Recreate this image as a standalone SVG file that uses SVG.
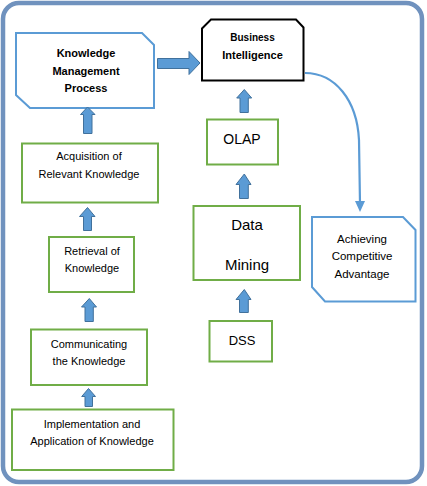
<svg xmlns="http://www.w3.org/2000/svg" width="427" height="486" viewBox="0 0 427 486">
<defs>
<style>
.frame{fill:#ffffff;stroke:#7092BE;stroke-width:4.5}
.green{fill:#ffffff;stroke:#70AD47;stroke-width:2}
.blue{fill:#ffffff;stroke:#5B9BD5;stroke-width:2}
.black{fill:#ffffff;stroke:#000000;stroke-width:2}
.t{font-family:"Liberation Sans",Arial,sans-serif;fill:#000000;text-anchor:middle}
.b{font-weight:bold}
.arr{fill:#5B9BD5;stroke:#41719C;stroke-width:1}
.curve{fill:none;stroke:#5B9BD5;stroke-width:2.2}
</style>
</defs>
<rect class="frame" x="3" y="3" width="419" height="479" rx="16"/>

<g id="kmp">
<path class="blue" d="M16,33 L142,33 L154,45 L154,108 L30,108 L16,95 Z" stroke-width="1.8"/>
<text class="t b" font-size="11" x="86" y="57">Knowledge</text>
<text class="t b" font-size="11" x="86" y="74.5">Management</text>
<text class="t b" font-size="11" x="86" y="92">Process</text>
</g>

<g id="bi">
<path class="black" d="M202,28.5 L211,19.5 L296,19.5 L303.5,27.5 L303.5,80.5 L202,80.5 Z"/>
<text class="t b" font-size="10" x="252.5" y="41">Business</text>
<text class="t b" font-size="11" x="252.5" y="59">Intelligence</text>
</g>

<g id="acquisition">
<rect class="green" x="22" y="143.5" width="136" height="59"/>
<text class="t" font-size="11" x="89" y="160">Acquisition of</text>
<text class="t" font-size="11" x="89" y="177.5">Relevant Knowledge</text>
</g>

<g id="retrieval">
<rect class="green" x="49" y="237" width="85" height="55"/>
<text class="t" font-size="11" x="92" y="255">Retrieval of</text>
<text class="t" font-size="11" x="92" y="272">Knowledge</text>
</g>

<g id="communicating">
<rect class="green" x="31" y="329.5" width="116" height="55.5"/>
<text class="t" font-size="11" x="89" y="348">Communicating</text>
<text class="t" font-size="11" x="89" y="365">the Knowledge</text>
</g>

<g id="implementation">
<rect class="green" x="12" y="409.5" width="161.5" height="60.5"/>
<text class="t" font-size="11" x="92" y="427.5">Implementation and</text>
<text class="t" font-size="11" x="92" y="444.5">Application of Knowledge</text>
</g>

<g id="olap">
<rect class="green" x="207" y="119.5" width="71" height="45"/>
<text class="t" font-size="14" x="242" y="144">OLAP</text>
</g>

<g id="datamining">
<rect class="green" x="193.5" y="206" width="106.5" height="74"/>
<text class="t" font-size="15" x="247" y="229.5">Data</text>
<text class="t" font-size="15" x="247" y="269.5">Mining</text>
</g>

<g id="dss">
<rect class="green" x="209.5" y="321" width="62.5" height="40.5"/>
<text class="t" font-size="13" x="242" y="345">DSS</text>
</g>

<g id="achieving">
<path class="blue" d="M312,217 L403,217 L415.5,230 L415.5,301.5 L325,301.5 L312,287 Z"/>
<text class="t" font-size="11.5" x="362" y="242.5">Achieving</text>
<text class="t" font-size="11.5" x="362" y="260">Competitive</text>
<text class="t" font-size="11.5" x="362" y="277.5">Advantage</text>
</g>

<g id="connectors">
<path class="arr" d="M157.5,58.5 L189,58.5 L189,51.5 L200,63 L189,74.5 L189,68.5 L157.5,68.5 Z"/>
<path class="arr" d="M83.5,133.5 L83.5,114.5 L80.5,114.5 L87.5,107 L95,114.5 L92,114.5 L92,133.5 Z"/>
<path class="arr" d="M83.5,230.5 L83.5,216.5 L79.5,216.5 L87.5,207.5 L95,216.5 L91.5,216.5 L91.5,230.5 Z"/>
<path class="arr" d="M85,321.5 L85,307 L81.5,307 L89.3,298.5 L96.5,307 L93.3,307 L93.3,321.5 Z"/>
<path class="arr" d="M85,406.5 L85,396.5 L81.7,396.5 L88.5,388.5 L95.5,396.5 L92.5,396.5 L92.5,406.5 Z"/>
<path class="arr" d="M240,112.5 L240,98 L236.7,98 L244.3,89.5 L251.7,98 L248.3,98 L248.3,112.5 Z"/>
<path class="arr" d="M239.5,198.5 L239.5,184.5 L236,184.5 L244.3,174 L251,184.5 L248.3,184.5 L248.3,198.5 Z"/>
<path class="arr" d="M239.5,312.5 L239.5,299.5 L236,299.5 L244.3,289.5 L251,299.5 L248.3,299.5 L248.3,312.5 Z"/>
<path class="curve" d="M305,73 C335,73 357,100 359,140 L360,204"/>
<polygon points="355,201 365,201 360,212" fill="#5B9BD5"/>
</g>
</svg>
